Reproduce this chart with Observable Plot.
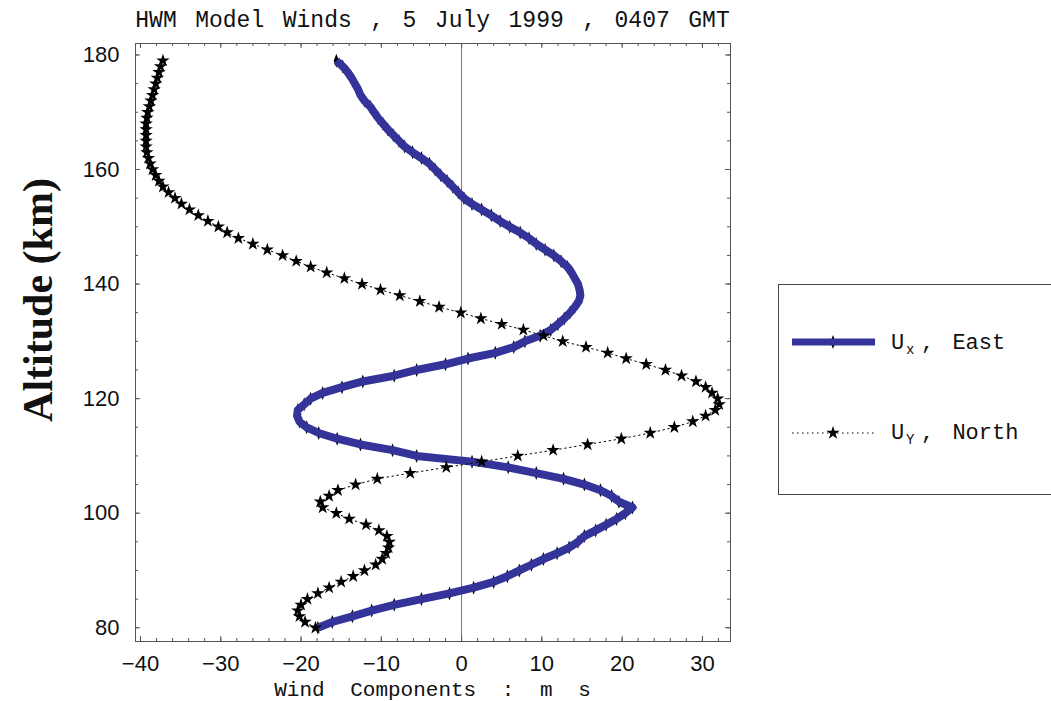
<!DOCTYPE html>
<html>
<head>
<meta charset="utf-8">
<script src="https://cdn.jsdelivr.net/npm/d3@7"></script>
<script src="https://cdn.jsdelivr.net/npm/@observablehq/plot@0.6"></script>
<style>
  html, body { margin: 0; padding: 0; background: #fff; }
  #wrap { position: relative; width: 1051px; height: 701px; overflow: hidden; background: #fff; }
  #chart { position: absolute; left: 0; top: 0; }
  #overlay { position: absolute; left: 0; top: 0; pointer-events: none; }
  #overlay text { white-space: pre; }
</style>
</head>
<body>
<div id="wrap">
  <div id="chart"></div>
  <svg id="overlay" width="1051" height="701"></svg>
</div>
<script>
// ---- data ----
const altitude = [
  80, 81, 82, 83, 84, 85, 86, 87, 88, 89,
  90, 91, 92, 93, 94, 95, 96, 97, 98, 99,
  100, 101, 102, 103, 104, 105, 106, 107, 108, 109,
  110, 111, 112, 113, 114, 115, 116, 117, 118, 119,
  120, 121, 122, 123, 124, 125, 126, 127, 128, 129,
  130, 131, 132, 133, 134, 135, 136, 137, 138, 139,
  140, 141, 142, 143, 144, 145, 146, 147, 148, 149,
  150, 151, 152, 153, 154, 155, 156, 157, 158, 159,
  160, 161, 162, 163, 164, 165, 166, 167, 168, 169,
  170, 171, 172, 173, 174, 175, 176, 177, 178, 179
];
// U_x, East (m/s)
const uxEast = [
  -17.9, -16.1, -13.6, -11.2, -8.4, -5.0, -1.5, 1.5, 4.0, 5.7,
  7.2, 8.7, 10.2, 11.9, 13.4, 14.5, 15.3, 16.7, 18.0, 19.3,
  20.4, 21.3, 19.6, 18.7, 17.3, 15.3, 12.7, 9.3, 5.8, 1.3,
  -5.6, -8.6, -12.6, -15.5, -17.8, -19.3, -20.2, -20.5, -20.4, -19.6,
  -18.8, -17.3, -14.9, -12.3, -8.4, -5.6, -2.0, 0.8, 4.2, 6.5,
  7.9, 9.8, 11.1, 12.0, 12.8, 13.5, 14.1, 14.6, 14.8, 14.7,
  14.5, 14.1, 13.7, 13.2, 12.4, 11.5, 10.4, 9.3, 8.4, 7.3,
  6.0, 4.8, 3.7, 2.5, 1.3, 0.3, -0.4, -1.1, -1.8, -2.6,
  -3.3, -4.0, -5.0, -6.1, -7.1, -7.8, -8.5, -9.2, -9.8, -10.4,
  -10.9, -11.4, -12.1, -12.6, -12.9, -13.3, -13.7, -14.2, -14.8, -15.6
];
// U_y, North (m/s)
const uyNorth = [
  -18.2, -19.5, -20.2, -20.4, -20.0, -19.2, -17.9, -16.5, -15.0, -13.5,
  -12.1, -10.7, -9.9, -9.4, -9.1, -9.0, -9.3, -10.3, -11.9, -14.0,
  -15.6, -17.3, -17.6, -16.5, -15.4, -13.2, -10.5, -6.4, -1.9, 2.5,
  7.0, 11.4, 15.7, 19.9, 23.5, 26.5, 28.8, 30.4, 31.6, 32.1,
  31.9, 31.2, 30.4, 29.2, 27.4, 25.4, 23.0, 20.5, 18.2, 15.5,
  12.6, 10.2, 7.7, 5.0, 2.4, -0.1, -2.8, -5.2, -7.7, -10.1,
  -12.4, -14.6, -16.8, -18.8, -20.6, -22.3, -24.2, -26.0, -27.8, -29.2,
  -30.3, -31.6, -32.8, -33.9, -34.9, -35.7, -36.5, -37.2, -37.7, -38.1,
  -38.5, -38.8, -39.0, -39.2, -39.3, -39.3, -39.3, -39.3, -39.3, -39.2,
  -39.1, -38.9, -38.7, -38.5, -38.3, -38.1, -37.9, -37.7, -37.5, -37.2
];
const xTicks = [-40, -30, -20, -10, 0, 10, 20, 30];
const yTicks = [80, 100, 120, 140, 160, 180];
const titleText = "HWM Model Winds , 5 July 1999 , 0407 GMT";
const xLabel = "Wind Components : m s";
const yLabel = "Altitude (km)";
const seriesNames = ["East", "North"];

// ---- build ----
const rows = altitude.map((a, i) => ({alt: a, ux: uxEast[i], uy: uyNorth[i]}));

const W = 740, H = 701;
const mL = 135, mR = 10, mT = 43, mB = 60;
const plotW = W - mL - mR, plotH = H - mT - mB;
const xMinor = d3.range(-40, 33.5, 2);
const yMinor = d3.range(80, 181, 5);

const thinDiamond = {
  draw(ctx) {
    ctx.moveTo(0, -7);
    ctx.lineTo(2.6, 0);
    ctx.lineTo(0, 7);
    ctx.lineTo(-2.6, 0);
    ctx.closePath();
  }
};
const starR = 4.2;

const tickStroke = "#555";
const chart = Plot.plot({
  width: W, height: H,
  marginLeft: mL, marginRight: mR, marginTop: mT, marginBottom: mB,
  x: {domain: [-40.62, 33.5]},
  y: {domain: [77.6, 182.0]},
  style: {fontFamily: "'Liberation Sans', Arial, sans-serif", fontSize: "22px", background: "transparent", color: "#111"},
  marks: [
    Plot.ruleX([0], {stroke: "#777", strokeWidth: 1}),
    // inward frame ticks
    Plot.ruleX(xMinor, {insetTop: plotH - 3, stroke: tickStroke}),
    Plot.ruleX(xTicks, {insetTop: plotH - 5, stroke: tickStroke}),
    Plot.ruleX(xMinor, {insetBottom: plotH - 3, stroke: tickStroke}),
    Plot.ruleX(xTicks, {insetBottom: plotH - 5, stroke: tickStroke}),
    Plot.ruleY(yMinor, {insetRight: plotW - 3, stroke: tickStroke}),
    Plot.ruleY(yTicks, {insetRight: plotW - 5, stroke: tickStroke}),
    Plot.ruleY(yMinor, {insetLeft: plotW - 3, stroke: tickStroke}),
    Plot.ruleY(yTicks, {insetLeft: plotW - 5, stroke: tickStroke}),
    Plot.frame({stroke: "#555", strokeWidth: 1}),
    Plot.axisX(xTicks, {tickSize: 0, tickPadding: 14, label: null, fontSize: 22}),
    Plot.axisY(yTicks, {tickSize: 0, tickPadding: 16, label: null, fontSize: 22}),
    // U_x east
    Plot.dot(rows, {x: "ux", y: "alt", symbol: thinDiamond, fill: "black"}),
    Plot.line(rows, {x: "ux", y: "alt", stroke: "#333399", strokeWidth: 8, strokeLinejoin: "round", strokeLinecap: "butt"}),
    // U_y north
    Plot.line(rows, {x: "uy", y: "alt", stroke: "black", strokeWidth: 1, strokeDasharray: "1.5,3.5"}),
    Plot.dot(rows, {x: "uy", y: "alt", symbol: "star", r: starR, fill: "black"})
  ]
});
document.getElementById("chart").appendChild(chart);

// ---- text, legend ----
const cx = mL + plotW / 2;
const ns = "http://www.w3.org/2000/svg";
const ov = document.getElementById("overlay");
function el(tag, attrs, text) {
  const e = document.createElementNS(ns, tag);
  for (const k in attrs) e.setAttribute(k, attrs[k]);
  if (text != null) e.textContent = text;
  ov.appendChild(e);
  return e;
}
const mono = "'Liberation Mono', 'Courier New', monospace";
el("text", {x: cx, y: 27, "text-anchor": "middle", "font-family": mono, "font-size": 23, "word-spacing": "4.7px", fill: "#111"}, titleText);
el("text", {x: cx, y: 696, "text-anchor": "middle", "font-family": mono, "font-size": 21, "word-spacing": "13px", fill: "#111"}, xLabel);
el("text", {transform: "translate(52,300) rotate(-90)", "text-anchor": "middle", "font-family": "'Liberation Serif', 'Times New Roman', serif", "font-weight": "bold", "font-size": 42, fill: "#111"}, yLabel);

// legend box
el("rect", {x: 778.5, y: 284.5, width: 320, height: 210, fill: "none", stroke: "#444", "stroke-width": 1});
// entry 1
el("path", {d: "M833,335L835.6,342L833,349L830.4,342Z", fill: "black"});
el("line", {x1: 792, x2: 875, y1: 342, y2: 342, stroke: "#333399", "stroke-width": 7});
el("text", {x: 891, y: 349, "font-family": mono, "font-size": 22, fill: "#111"}, "U");
el("text", {x: 906, y: 354, "font-family": mono, "font-size": 14, fill: "#111"}, "x");
el("text", {x: 921, y: 349, "font-family": mono, "font-size": 22, "word-spacing": "5px", fill: "#111"}, ", " + seriesNames[0]);
// entry 2
el("line", {x1: 792, x2: 875, y1: 433, y2: 433, stroke: "black", "stroke-width": 1, "stroke-dasharray": "1.5,3.5"});
const star = d3.symbol(d3.symbolStar, Math.PI * starR * starR)();
el("path", {d: star, transform: "translate(833,433)", fill: "black"});
el("text", {x: 891, y: 439, "font-family": mono, "font-size": 22, fill: "#111"}, "U");
el("text", {x: 906, y: 444, "font-family": mono, "font-size": 14, fill: "#111"}, "Y");
el("text", {x: 921, y: 439, "font-family": mono, "font-size": 22, "word-spacing": "5px", fill: "#111"}, ", " + seriesNames[1]);
</script>
</body>
</html>
